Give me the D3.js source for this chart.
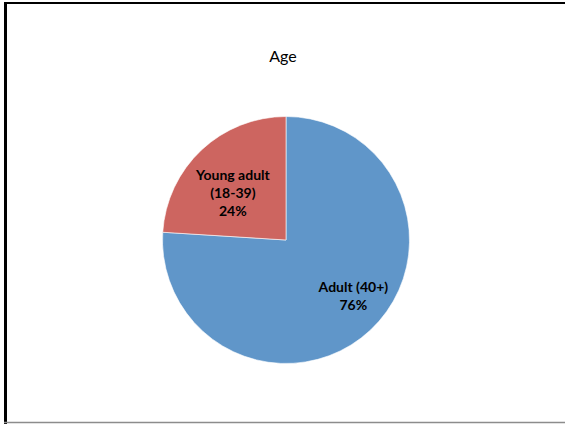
<!DOCTYPE html>
<html>
<head>
<meta charset="utf-8">
<script src="https://cdn.jsdelivr.net/npm/d3@7"></script>
<style>
  html, body { margin: 0; padding: 0; background: #fff; }
  svg { display: block; }
</style>
</head>
<body>
<svg id="chart" width="565" height="424"></svg>
<script>
const title = "Age";
const categories = ["Adult (40+)", "Young adult (18-39)"];
const values = [76, 24];
const labelLines = [["Adult (40+)", "76%"], ["Young adult", "(18-39)", "24%"]];
const colors = ["#6096C9", "#CD6560"];

const svg = d3.select("#chart");
const W = 565, H = 424;

// frame
svg.append("rect").attr("x", 0).attr("y", 0).attr("width", W).attr("height", H).attr("fill", "#fff");
svg.append("line").attr("x1", 5.5).attr("x2", 5.5).attr("y1", 2).attr("y2", 424)
  .attr("stroke", "#000").attr("stroke-width", 3);
svg.append("line").attr("x1", 4).attr("x2", 565).attr("y1", 3).attr("y2", 3)
  .attr("stroke", "#000").attr("stroke-width", 2);
svg.append("line").attr("x1", 4).attr("x2", 565).attr("y1", 422.5).attr("y2", 422.5)
  .attr("stroke", "#8c8c8c").attr("stroke-width", 1.5);

svg.append("text").attr("x", 283).attr("y", 62)
  .attr("text-anchor", "middle")
  .attr("font-family", "Lato, 'Open Sans', sans-serif")
  .attr("font-size", 16)
  .attr("fill", "#000")
  .text(title);

const cx = 286, cy = 240, r = 123.5;
const g = svg.append("g").attr("transform", `translate(${cx},${cy})`);

const data = categories.map((c, i) => ({ cat: c, value: values[i], i }));
const pie = d3.pie().value(d => d.value).sort(null);
const arc = d3.arc().innerRadius(0).outerRadius(r);
const arcs = pie(data);

g.selectAll("path").data(arcs).enter().append("path")
  .attr("d", arc)
  .attr("fill", d => colors[d.data.i])
  .attr("stroke", "#fff")
  .attr("stroke-width", 0.6);

// best-fit style label placement: radial fraction and angular nudge per slice
const labelRadius = [0.71, 0.575];
const labelAngleShift = [-0.122, -0.092];
const lineH = 18;
arcs.forEach(a => {
  const i = a.data.i;
  const mid = (a.startAngle + a.endAngle) / 2 + labelAngleShift[i];
  const rr = r * labelRadius[i];
  const lx = rr * Math.sin(mid), ly = -rr * Math.cos(mid);
  const lines = labelLines[i];
  const t = g.append("text")
    .attr("text-anchor", "middle")
    .attr("font-family", "Lato, 'Open Sans', sans-serif")
    .attr("font-weight", "bold")
    .attr("font-size", 14)
    .attr("fill", "#000");
  const y0 = ly - (lines.length - 1) * lineH / 2;
  lines.forEach((s, k) => {
    t.append("tspan").attr("x", lx).attr("y", y0 + k * lineH).attr("dy", "0.35em").text(s);
  });
});
</script>
</body>
</html>
